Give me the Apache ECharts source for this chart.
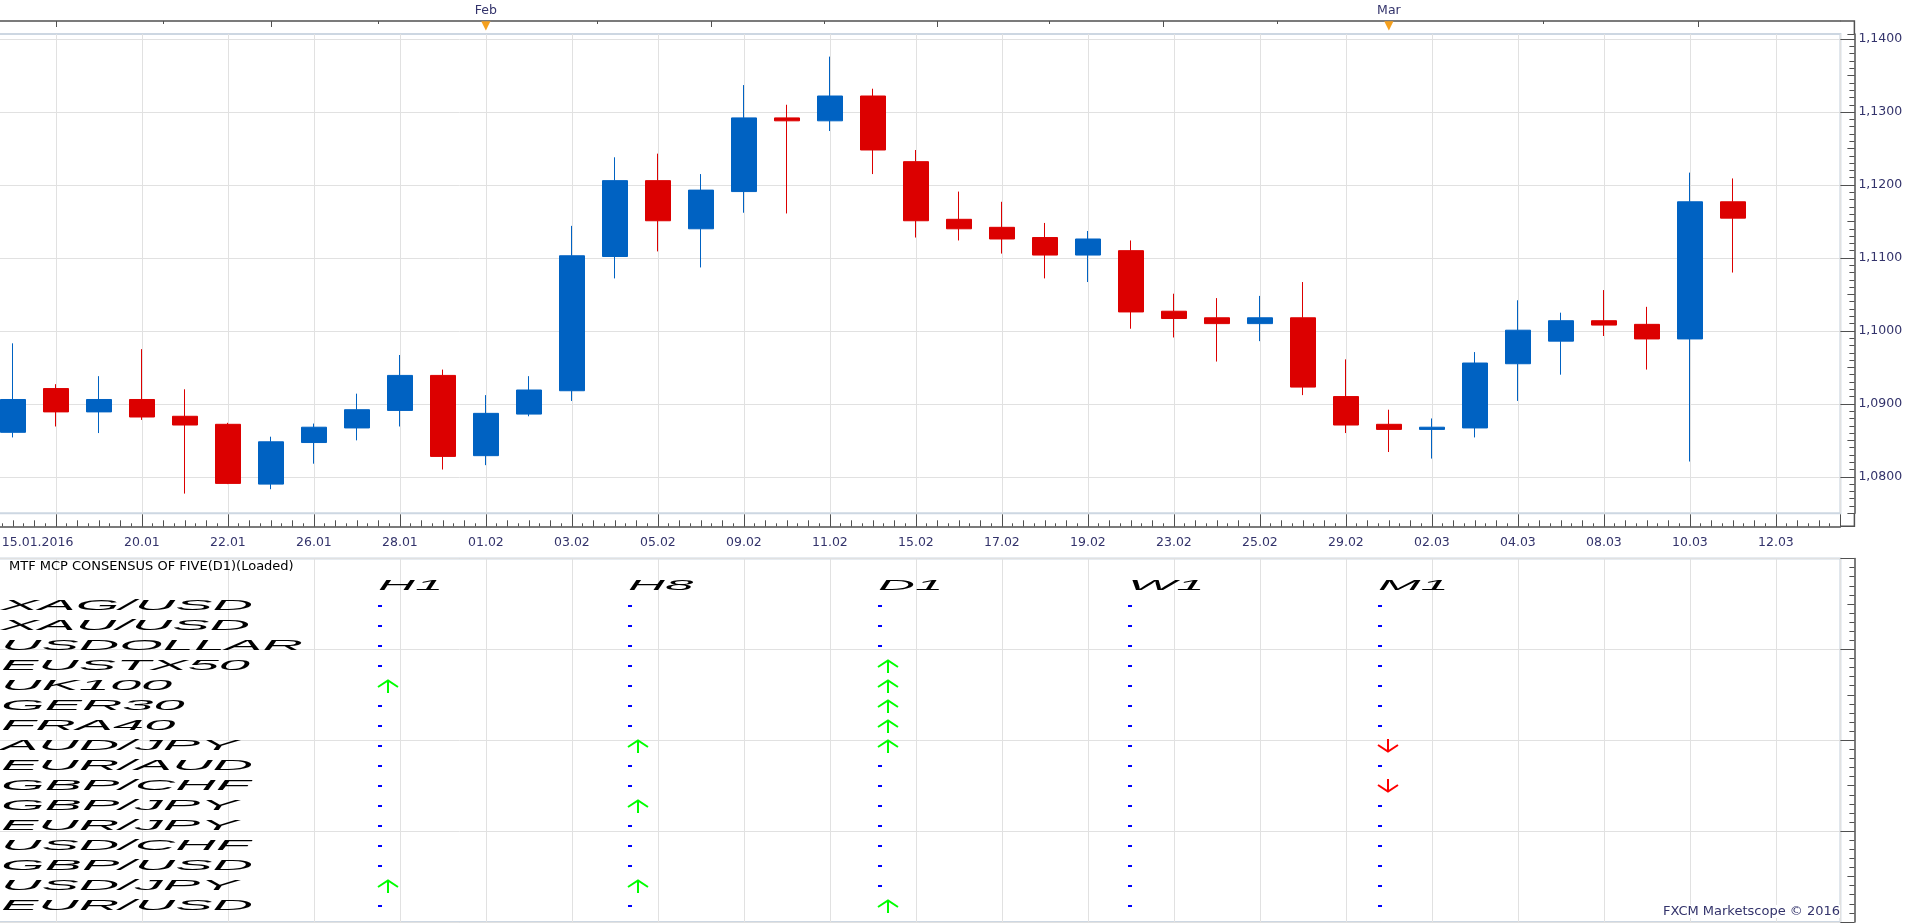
<!DOCTYPE html>
<html>
<head>
<meta charset="UTF-8">
<title>EUR/USD D1 - Marketscope</title>
<script type="text/javascript" src="https://cdn.jsdelivr.net/npm/echarts@6/dist/echarts.min.js"></script>
<style>
	html, body { margin: 0; padding: 0; background: #fff; }
	#main { width: 1921px; height: 923px; }
</style>
</head>
<body>
<div id="main"></div>
<script type="text/javascript">
// day slots on the x axis, the last two are empty future days
var dates = ['15.01','18.01','19.01','20.01','21.01','22.01','25.01','26.01','27.01','28.01','29.01',
	'01.02','02.02','03.02','04.02','05.02','08.02','09.02','10.02','11.02','12.02','15.02','16.02',
	'17.02','18.02','19.02','22.02','23.02','24.02','25.02','26.02','29.02','01.03','02.03','03.03',
	'04.03','07.03','08.03','09.03','10.03','11.03','12.03','13.03'];
var year = '2016';

// daily candles
var open  = [1.0861,1.0921,1.0889,1.0906,1.0883,1.0872,1.0790,1.0847,1.0867,1.0891,1.0939,1.0829,1.0886,1.0918,
	1.1102,1.1206,1.1140,1.1191,1.1292,1.1288,1.1322,1.1232,1.1153,1.1142,1.1128,1.1104,1.1110,1.1027,
	1.1018,1.1010,1.1018,1.0910,1.0872,1.0865,1.0867,1.0955,1.0986,1.1014,1.1009,1.0989,1.1177];
var close = [1.0906,1.0889,1.0906,1.0882,1.0871,1.0791,1.0848,1.0868,1.0892,1.0939,1.0828,1.0887,1.0919,1.1103,
	1.1206,1.1151,1.1193,1.1292,1.1288,1.1322,1.1248,1.1151,1.1140,1.1126,1.1104,1.1126,1.1026,1.1017,
	1.1010,1.1018,1.0923,1.0871,1.0865,1.0868,1.0956,1.1001,1.1014,1.1008,1.0989,1.1177,1.11546];
var low   = [1.0854,1.0869,1.0860,1.0878,1.0777,1.0790,1.0783,1.0818,1.0850,1.0869,1.0810,1.0816,1.0883,1.0904,
	1.1072,1.1109,1.1087,1.1162,1.1161,1.1274,1.1215,1.1128,1.1124,1.1106,1.1072,1.1067,1.1003,1.0991,
	1.0958,1.0986,1.0912,1.0860,1.0834,1.0825,1.0854,1.0904,1.0940,1.0993,1.0947,1.0821,1.1080];
var high  = [1.0983,1.0927,1.0938,1.0975,1.0920,1.0874,1.0855,1.0873,1.0914,1.0967,1.0947,1.0912,1.0938,1.1144,
	1.1238,1.1243,1.1215,1.1337,1.1310,1.1376,1.1332,1.1248,1.1191,1.1177,1.1148,1.1137,1.1124,1.1051,
	1.1045,1.1048,1.1067,1.0961,1.0892,1.0880,1.0971,1.1042,1.1025,1.1056,1.1033,1.1217,1.1209];
var lastPrice = 1.11546;

var priceTicks = [1.08, 1.09, 1.10, 1.11, 1.12, 1.13, 1.14];
var months = ['Feb', 'Mar'];
var monthSlot = [12, 33];
// ticks of the calendar strip on top (day slot positions)
var topTicksLong = [2, 7, 17.24, 22.5, 27.75, 40.2];
var topTicksShort = [4.5, 9.5, 14.6, 19.87, 25.1, 30.4, 36.6];

// MTF consensus panel
var symbols = ['XAG/USD','XAU/USD','USDOLLAR','EUSTX50','UK100','GER30','FRA40','AUD/JPY',
	'EUR/AUD','GBP/CHF','GBP/JPY','EUR/JPY','USD/CHF','GBP/USD','USD/JPY','EUR/USD'];
var frames = ['H1', 'H8', 'D1', 'W1', 'M1'];
// 1 up, -1 down, 0 flat
var sigH1 = [0,0,0,0,1,0,0,0,0,0,0,0,0,0,1,0];
var sigH8 = [0,0,0,0,0,0,0,1,0,0,1,0,0,0,1,0];
var sigD1 = [0,0,0,1,1,1,1,1,0,0,0,0,0,0,0,1];
var sigW1 = [0,0,0,0,0,0,0,0,0,0,0,0,0,0,0,0];
var sigM1 = [0,0,0,0,0,0,0,-1,0,-1,0,0,0,0,0,0];

var blue = '#0062c2', red = '#dc0000';
var labelColor = '#33336b', axisColor = '#505050', gridColor = '#e1e1e1', frameColor = '#cdd7e2';
var font = 'DejaVu Sans';
var nameFont = 'italic 14px "Liberation Sans"';

var candles = [];
for (var i = 0; i < close.length; i++) {
	candles.push([i + 1, open[i], close[i], low[i], high[i]]);
}
var signals = [];
[sigH1, sigH8, sigD1, sigW1, sigM1].forEach(function (col, c) {
	col.forEach(function (s, r) { signals.push([c, r, s]); });
});

var slotMax = dates.length + 0.5;
var gridLeft = -30.1, gridWidth = slotMax * 43;
var plotTop = 34, plotBottom = 513.3, plotRight = gridLeft + gridWidth;

function comma(v, d) { return v.toFixed(d).replace('.', ','); }

function tickAxis(pos, grid, interval, len, type) {
	return {
		gridIndex: grid, type: 'value', position: pos, offset: pos == 'right' ? 14 : 13,
		min: type == 'x' ? 0 : (grid == 0 ? 1.075 : 0),
		max: type == 'x' ? slotMax : (grid == 0 ? 1.1407 : 4),
		interval: interval,
		axisLine: {show: false, onZero: false}, axisLabel: {show: false}, splitLine: {show: false},
		axisTick: {show: true, inside: true, length: len, lineStyle: {color: axisColor}}
	};
}

var chart = echarts.init(document.getElementById('main'));

var option = {
	animation: false,
	backgroundColor: '#fff',
	title: [
		{text: 'MTF MCP CONSENSUS OF FIVE(D1)(Loaded)', left: 9, top: 560, padding: 0,
			textStyle: {fontFamily: font, fontSize: 13, fontWeight: 'normal', color: '#000'}},
		{text: 'FXCM Marketscope \u00a9 2016', right: 81, top: 905, padding: [0, 0, 0, 3], backgroundColor: '#fff',
			textStyle: {fontFamily: font, fontSize: 13, fontWeight: 'normal', color: labelColor}}
	],
	// corners where the date strips meet the price scale
	graphic: [
		{type: 'polyline', silent: true, shape: {points: [[plotRight, plotTop - 13], [plotRight + 14, plotTop - 13], [plotRight + 14, plotTop]]},
			style: {stroke: axisColor, lineWidth: 1.5, fill: null}},
		{type: 'polyline', silent: true, shape: {points: [[plotRight, plotBottom + 13], [plotRight + 14, plotBottom + 13], [plotRight + 14, plotBottom]]},
			style: {stroke: axisColor, lineWidth: 1.5, fill: null}}
	],
	grid: [
		{left: gridLeft, top: plotTop, width: gridWidth, height: plotBottom - plotTop, show: true, borderColor: frameColor, borderWidth: 2,
			outerBoundsMode: 'none', containLabel: false},
		{left: gridLeft, top: 558.5, width: gridWidth, height: 363.5, show: true, borderColor: frameColor, borderWidth: 2,
			outerBoundsMode: 'none', containLabel: false},
		{left: 379, top: 606, width: 1000, height: 300, outerBoundsMode: 'none', containLabel: false}
	],
	xAxis: [
		{
			gridIndex: 0, type: 'value', position: 'bottom', offset: 13, min: 0, max: slotMax, interval: 2,
			axisLine: {onZero: false, lineStyle: {color: axisColor, width: 1.5}},
			axisTick: {inside: true, length: 12, lineStyle: {color: axisColor}},
			splitLine: {show: true, lineStyle: {color: gridColor}},
			axisLabel: {
				margin: 10, color: labelColor, fontFamily: font, fontSize: 12.5,
				formatter: function (v) {
					if (v === 0) return '{first|' + dates[0] + '.' + year + '}';
					if (v < 4 || v % 1 !== 0) return '';
					return dates[v - 1] || '';
				},
				rich: {first: {width: 207, align: 'right', color: labelColor, fontFamily: font, fontSize: 12.5}}
			}
		},
		tickAxis('bottom', 0, 0.5, 6, 'x'),
		tickAxis('bottom', 0, 0.25, 3, 'x'),
		{
			gridIndex: 0, type: 'value', position: 'top', offset: 13, min: 0, max: slotMax,
			axisLine: {onZero: false, lineStyle: {color: axisColor, width: 1.5}},
			axisTick: {inside: true, length: 6, customValues: topTicksLong, lineStyle: {color: axisColor}},
			splitLine: {show: false},
			axisLabel: {
				customValues: monthSlot, margin: 4, color: labelColor, fontFamily: font, fontSize: 12.5,
				formatter: function (v) { return months[monthSlot.indexOf(v)] || ''; }
			}
		},
		{
			gridIndex: 0, type: 'value', position: 'top', offset: 13, min: 0, max: slotMax,
			axisLine: {show: false, onZero: false}, splitLine: {show: false},
			axisTick: {inside: true, length: 3, customValues: topTicksShort, lineStyle: {color: axisColor}},
			axisLabel: {
				customValues: monthSlot, inside: true, margin: -1, color: '#f5a01e', fontFamily: font, fontSize: 12,
				formatter: function () { return '\u25bc'; }
			}
		},
		{
			gridIndex: 1, type: 'value', min: 0, max: slotMax, interval: 2,
			axisLine: {show: false, onZero: false}, axisTick: {show: false}, axisLabel: {show: false},
			splitLine: {show: true, lineStyle: {color: gridColor}}
		},
		{gridIndex: 2, type: 'category', data: frames, boundaryGap: false, show: false}
	],
	yAxis: [
		{
			gridIndex: 0, type: 'value', position: 'right', offset: 14, min: 1.075, max: 1.1407, scale: true,
			axisLine: {show: true, onZero: false, lineStyle: {color: axisColor, width: 1.5}},
			axisTick: {show: true, inside: true, length: 14, customValues: priceTicks, lineStyle: {color: axisColor}},
			splitLine: {show: true, lineStyle: {color: gridColor}},
			axisLabel: {
				customValues: priceTicks, margin: 4, color: labelColor, fontFamily: font, fontSize: 12.5,
				formatter: function (v) { return comma(v, 4); }
			}
		},
		tickAxis('right', 0, 0.005, 7, 'y'),
		tickAxis('right', 0, 0.001, 5, 'y'),
		{
			gridIndex: 1, type: 'value', position: 'right', offset: 14, min: 0, max: 4, interval: 1,
			axisLine: {show: true, onZero: false, lineStyle: {color: axisColor, width: 1.5}},
			axisTick: {show: true, inside: true, length: 14, lineStyle: {color: axisColor}},
			axisLabel: {show: false},
			splitLine: {show: true, lineStyle: {color: gridColor}}
		},
		{
			gridIndex: 1, type: 'value', position: 'right', offset: 14, min: 0, max: 4, interval: 0.5,
			axisLine: {show: false, onZero: false}, axisLabel: {show: false}, splitLine: {show: false},
			axisTick: {show: true, inside: true, length: 7, lineStyle: {color: axisColor}},
			minorTick: {show: true, splitNumber: 5, length: 5, lineStyle: {color: axisColor}}
		},
		{gridIndex: 2, type: 'category', data: symbols, inverse: true, boundaryGap: false, show: false}
	],
	series: [
		{
			type: 'candlestick', xAxisIndex: 0, yAxisIndex: 0,
			encode: {x: 0, y: [1, 2, 3, 4]},
			barWidth: 26,
			itemStyle: {color: blue, color0: red, borderColor: blue, borderColor0: red, borderWidth: 1},
			data: candles,
			markLine: {
				silent: true, symbol: 'none',
				lineStyle: {opacity: 0},
				label: {
					position: 'end', distance: 15, color: '#000', backgroundColor: '#66ccff',
					padding: [3, 2, 3, 3], fontFamily: font, fontSize: 12,
					formatter: function (p) { return comma(p.value, 5); }
				},
				data: [{yAxis: lastPrice}]
			}
		},
		{
			// symbol names, stretched like the platform font
			type: 'custom', xAxisIndex: 6, yAxisIndex: 5, silent: true,
			data: symbols.map(function (s, r) { return [0, r]; }),
			renderItem: function (params, api) {
				var p = api.coord([0, api.value(1)]);
				return {
					type: 'text', x: params.coordSys.x - 378, y: p[1], scaleX: 4,
					style: {text: symbols[api.value(1)], font: nameFont, fill: '#000',
						align: 'left', verticalAlign: 'middle', textAlign: 'left', textVerticalAlign: 'middle'}
				};
			}
		},
		{
			// timeframe headers
			type: 'custom', xAxisIndex: 6, yAxisIndex: 5, silent: true,
			data: frames.map(function (f, c) { return [c, 0]; }),
			renderItem: function (params, api) {
				var p = api.coord([api.value(0), 0]);
				var row = api.size([0, 1])[1];
				return {
					type: 'text', x: p[0] - 1, y: p[1] - row, scaleX: 3.65,
					style: {text: frames[api.value(0)], font: nameFont, fill: '#000',
						align: 'left', verticalAlign: 'middle', textAlign: 'left', textVerticalAlign: 'middle'}
				};
			}
		},
		{
			// consensus signals
			type: 'custom', xAxisIndex: 6, yAxisIndex: 5, silent: true,
			data: signals,
			renderItem: function (params, api) {
				var p = api.coord([api.value(0), api.value(1)]);
				var s = api.value(2), x = p[0], y = p[1];
				if (s === 0) {
					return {type: 'rect', shape: {x: x - 1, y: y - 1, width: 4, height: 2}, style: {fill: '#0000ff'}};
				}
				var d = s > 0 ? -1 : 1;
				var cx = x + 9, tip = y + 5.5 * d;
				var col = s > 0 ? '#00ff00' : '#ff0000';
				return {
					type: 'group', children: [
						{type: 'polyline', shape: {points: [[cx - 10, tip - 6.5 * d], [cx, tip], [cx + 10, tip - 6.5 * d]]},
							style: {stroke: col, lineWidth: 2, fill: null}},
						{type: 'line', shape: {x1: cx, y1: tip, x2: cx, y2: tip - 12.5 * d},
							style: {stroke: col, lineWidth: 2}}
					]
				};
			}
		}
	]
};

chart.setOption(option);
window.onresize = chart.resize;
</script>
</body>
</html>
